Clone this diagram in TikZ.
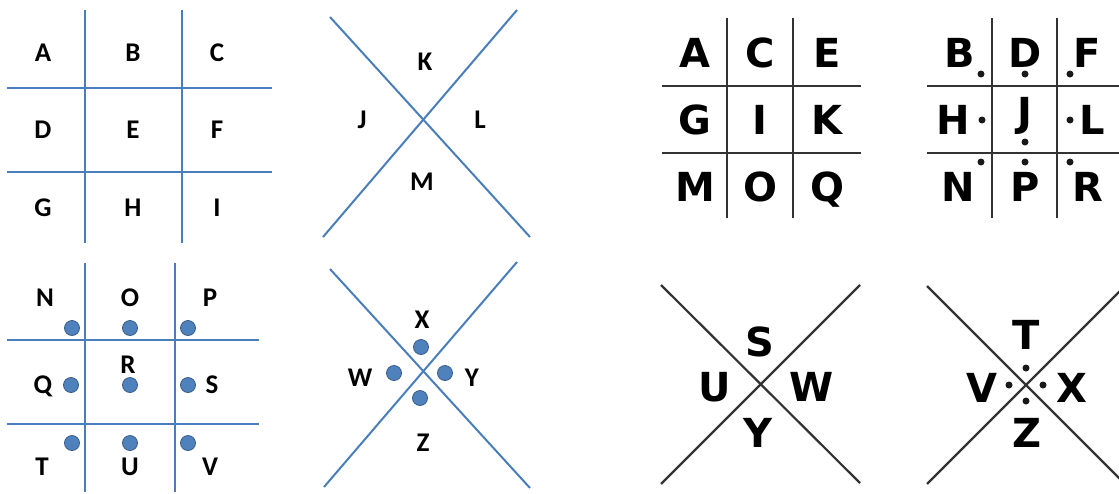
\documentclass[tikz,border=0pt]{standalone}
\usepackage{fontspec}
\newfontfamily\lfont{Carlito}
\newfontfamily\rfont{DejaVu Sans}
\definecolor{bluel}{HTML}{4A7EBB}
\definecolor{dotfill}{HTML}{4F81BD}
\definecolor{dotdraw}{HTML}{385D8A}
\definecolor{greyl}{HTML}{333333}
\tikzset{
  bl/.style={draw=bluel, line width=2pt},
  kl/.style={draw=greyl, line width=2.2pt},
  ltr/.style={font=\lfont\bfseries\fontsize{27}{27}\selectfont, inner sep=0pt, text height=17.4pt, text depth=0pt, anchor=center},
  rtr/.style={font=\rfont\bfseries\fontsize{40}{40}\selectfont, inner sep=0pt, text height=29pt, text depth=0pt, anchor=center},
  bdot/.style={circle, fill=dotfill, draw=dotdraw, line width=0.8pt, minimum size=15pt, inner sep=0pt},
  kdot/.style={circle, fill=black!90, minimum size=7pt, inner sep=0pt}
}
\begin{document}
\begin{tikzpicture}[x=1pt,y=-1pt]
\useasboundingbox (0,0) rectangle (1119,493);
% ---------- top-left grid ----------
\draw[bl] (85,10) -- (85,243);
\draw[bl] (182,10) -- (182,243);
\draw[bl] (7,88) -- (272,88);
\draw[bl] (7,172) -- (272,172);
\node[ltr] (a1) at (43,53) {A};
\node[ltr] (b1) at (133,53) {B};
\node[ltr] (c1) at (217,53) {C};
\node[ltr] (d1) at (43,130) {D};
\node[ltr] (e1) at (133,130) {E};
\node[ltr] (f1) at (217,130) {F};
\node[ltr] (g1) at (43,208) {G};
\node[ltr] (h1) at (133,208) {H};
\node[ltr] (i1) at (217,208) {I};
% ---------- bottom-left grid ----------
\draw[bl] (85,263) -- (85,492);
\draw[bl] (175,263) -- (175,492);
\draw[bl] (7,340) -- (259,340);
\draw[bl] (7,424) -- (259,424);
\node[ltr] (n1) at (45,298) {N};
\node[ltr] (o1) at (130,298) {O};
\node[ltr] (p1) at (210,298) {P};
\node[ltr] (q1) at (43,385) {Q};
\node[ltr] (r1) at (128,365) {R};
\node[ltr] (s1) at (212,385) {S};
\node[ltr] (t1) at (42,467) {T};
\node[ltr] (u1) at (130,467) {U};
\node[ltr] (v1) at (210,467) {V};
\node[bdot] (dn) at (72,328) {};
\node[bdot] (do) at (130,328) {};
\node[bdot] (dp) at (188,328) {};
\node[bdot] (dq) at (71,385) {};
\node[bdot] (dr) at (130,385) {};
\node[bdot] (ds) at (188,385) {};
\node[bdot] (dt) at (72,443) {};
\node[bdot] (du) at (130,443) {};
\node[bdot] (dv) at (188,443) {};
% ---------- top-middle X ----------
\draw[bl] (330,17) -- (530,237);
\draw[bl] (517,10) -- (323,237);
\node[ltr] (k1) at (425,62) {K};
\node[ltr] (j1) at (362,120) {J};
\node[ltr] (l1) at (480,120) {L};
\node[ltr] (m1) at (422,182) {M};
% ---------- bottom-middle X ----------
\draw[bl] (330,269) -- (530,488);
\draw[bl] (517,262) -- (324,487);
\node[ltr] (x1) at (422,320) {X};
\node[ltr] (w1) at (360,378) {W};
\node[ltr] (y1) at (472,378) {Y};
\node[ltr] (z1) at (423,443) {Z};
\node[bdot] (dx) at (421,347) {};
\node[bdot] (dw) at (394,373) {};
\node[bdot] (dy) at (445,373) {};
\node[bdot] (dz) at (420,398) {};
% ---------- top-right grid 1 ----------
\draw[kl] (727,18) -- (727,218);
\draw[kl] (793,18) -- (793,218);
\draw[kl] (662,86) -- (861,86);
\draw[kl] (662,153) -- (861,153);
\node[rtr] (a2) at (695,53) {A};
\node[rtr] (c2) at (760,53) {C};
\node[rtr] (e2) at (827,53) {E};
\node[rtr] (g2) at (695,120) {G};
\node[rtr] (i2) at (760,120) {I};
\node[rtr] (k2) at (827,120) {K};
\node[rtr] (m2) at (695,187) {M};
\node[rtr] (o2) at (760,187) {O};
\node[rtr] (q2) at (827,187) {Q};
% ---------- top-right grid 2 ----------
\draw[kl] (992,18) -- (992,218);
\draw[kl] (1057,18) -- (1057,218);
\draw[kl] (927,86) -- (1119,86);
\draw[kl] (927,153) -- (1119,153);
\node[rtr] (b2) at (960,53) {B};
\node[rtr] (d2) at (1025,53) {D};
\node[rtr] (f2) at (1087,53) {F};
\node[rtr] (h2) at (953,120) {H};
\node[rtr] (j2) at (1025,112) {J};
\node[rtr] (l2) at (1092,120) {L};
\node[rtr] (n2) at (958,187) {N};
\node[rtr] (p2) at (1025,187) {P};
\node[rtr] (r2) at (1088,187) {R};
\node[kdot] (db) at (981,74) {};
\node[kdot] (dd) at (1025,74) {};
\node[kdot] (df) at (1070,74) {};
\node[kdot] (dh) at (982,120) {};
\node[kdot] (dj) at (1025,142) {};
\node[kdot] (dl) at (1070,120) {};
\node[kdot] (dn2) at (981,162) {};
\node[kdot] (dp2) at (1025,162) {};
\node[kdot] (dr2) at (1070,162) {};
% ---------- bottom-right X 1 ----------
\draw[kl] (661,285) -- (860,483);
\draw[kl] (860,285) -- (661,484);
\node[rtr] (s2) at (760,342) {S};
\node[rtr] (u2) at (715,387) {U};
\node[rtr] (w2) at (812,387) {W};
\node[rtr] (y2) at (758,433) {Y};
% ---------- bottom-right X 2 ----------
\begin{scope}
\clip (0,0) rectangle (1119,493);
\draw[kl] (927,286) -- (1125,484);
\draw[kl] (1125,286) -- (927,484);
\end{scope}
\node[rtr] (t2) at (1026,335) {T};
\node[rtr] (v2) at (982,388) {V};
\node[rtr] (x2) at (1072,388) {X};
\node[rtr] (z2) at (1027,433) {Z};
\node[kdot] (dt2) at (1026,368) {};
\node[kdot] (dv2) at (1009,385) {};
\node[kdot] (dx2) at (1043,385) {};
\node[kdot] (dz2) at (1026,401) {};
\end{tikzpicture}
\end{document}
